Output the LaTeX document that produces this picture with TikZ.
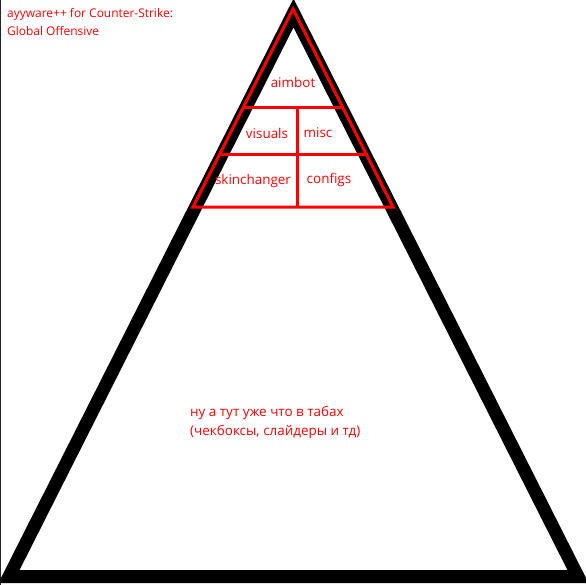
\documentclass[tikz,border=0pt]{standalone}
\usepackage{fontspec}
\setmainfont{Open Sans}
\usepackage{xcolor}
\definecolor{r}{rgb}{1,0,0}

\begin{document}
\begin{tikzpicture}[x=1bp,y=-1bp,
    every node/.style={text=r,font=\fontsize{13.5}{20}\selectfont,inner sep=0pt}]
    \useasboundingbox (0,0) rectangle (586,585);
    \clip (0,0) rectangle (586,585);

    % Left border
    \draw[black!85,line width=1.2bp] (0.6,0) -- (0.6,585);

    % Outer triangle
    \coordinate (top) at (293.5,13);
    \coordinate (bl) at (9,576.5);
    \coordinate (br) at (578,576.5);
    \draw[line width=13bp,miter limit=10] (top) -- (bl) -- (br) -- cycle;

    % Tabs triangle
    \coordinate (rtop) at (293,9);
    \coordinate (rbl) at (193,207);
    \coordinate (rbr) at (393,207);
    \draw[r,line width=3bp] (rtop) -- (rbl) -- (rbr) -- cycle;

    % Rows and columns of tabs
    \coordinate (r1l) at (243,108);
    \coordinate (r1r) at (344,108);
    \coordinate (r2l) at (219,155);
    \coordinate (r2r) at (368,155);
    \coordinate (c1) at (297,108);
    \coordinate (c2) at (297,207);
    \draw[r,line width=3bp] (r1l) -- (r1r);
    \draw[r,line width=3bp] (r2l) -- (r2r);
    \draw[r,line width=3bp] (c1) -- (c2);

    % Labels
    \node[anchor=north west,font=\fontsize{12}{18}\selectfont] (title) at (7,5) {\begin{tabular}{@{}l@{}}ayyware++ for Counter-Strike:\\Global Offensive\end{tabular}};
    \node (aimbot) at (293,82) {aimbot};
    \node (visuals) at (267,133) {visuals};
    \node (misc) at (318,133) {misc};
    \node (skins) at (253,181) {skinchanger};
    \node (configs) at (329,180) {configs};
    \node[anchor=west,font=\fontsize{13.5}{19.5}\selectfont] (tabs) at (190,422) {\begin{tabular}{@{}l@{}}ну а тут уже что в табах\\(чекбоксы, слайдеры и тд)\end{tabular}};
\end{tikzpicture}
\end{document}
